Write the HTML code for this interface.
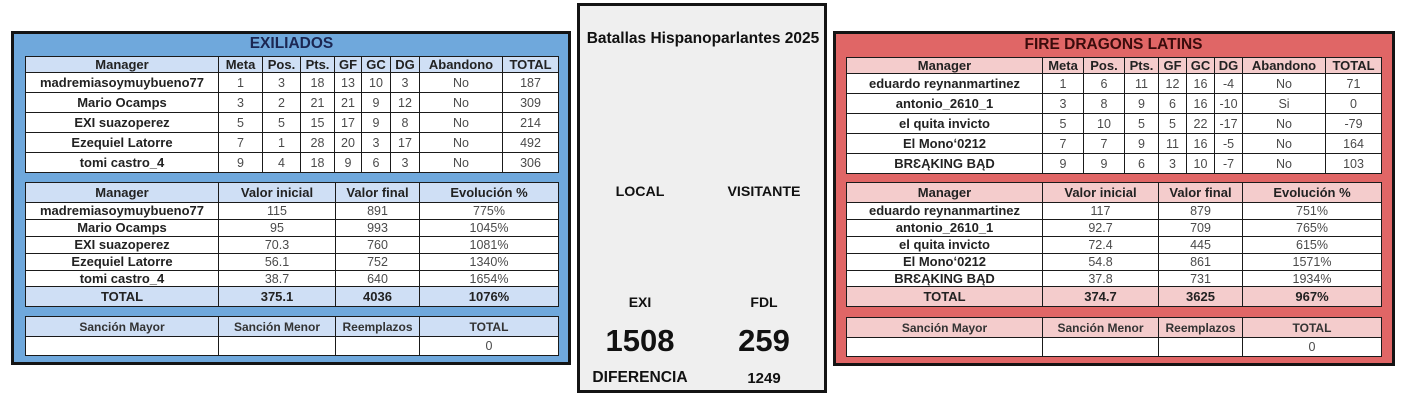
<!DOCTYPE html>
<html>
<head>
<meta charset="utf-8">
<style>
html,body{margin:0;padding:0;}
body{width:1402px;height:403px;background:#fff;position:relative;overflow:hidden;font-family:"Liberation Sans",Arial,sans-serif;}
.panel{position:absolute;box-sizing:border-box;border:3px solid #141414;}
.title{position:absolute;font-weight:bold;text-align:center;white-space:nowrap;line-height:18px;}
table{position:absolute;border-collapse:collapse;table-layout:fixed;}
td{border:1px solid #1a1a1a;padding:0;text-align:center;vertical-align:middle;font-size:12.5px;color:#4a4a4a;background:#fff;white-space:nowrap;overflow:hidden;line-height:14px;}
td.n{font-weight:bold;font-size:13px;color:#222;}
.bl td.h{background:#cfdff5;font-weight:bold;font-size:13px;color:#222;}
.rd td.h{background:#f4cccc;font-weight:bold;font-size:13px;color:#222;}
td.s{font-size:12px !important;color:#333 !important;}
.mt{position:absolute;font-weight:bold;text-align:center;white-space:nowrap;color:#111;}
</style>
</head>
<body>

<!-- LEFT PANEL -->
<div class="panel" style="left:11px;top:31px;width:560px;height:334px;background:#6fa8dc;"></div>
<div class="title" style="left:25px;top:35px;width:533px;font-size:15.5px;color:#1b2652;">EXILIADOS</div>

<table class="bl" style="left:25px;top:56px;width:533px;">
<colgroup><col style="width:193px"><col style="width:44px"><col style="width:38px"><col style="width:34px"><col style="width:27px"><col style="width:29px"><col style="width:29px"><col style="width:83px"><col style="width:56px"></colgroup>
<tr style="height:16px"><td class="h">Manager</td><td class="h">Meta</td><td class="h">Pos.</td><td class="h">Pts.</td><td class="h">GF</td><td class="h">GC</td><td class="h">DG</td><td class="h">Abandono</td><td class="h">TOTAL</td></tr>
<tr style="height:20px"><td class="n">madremiasoymuybueno77</td><td>1</td><td>3</td><td>18</td><td>13</td><td>10</td><td>3</td><td>No</td><td>187</td></tr>
<tr style="height:20px"><td class="n">Mario Ocamps</td><td>3</td><td>2</td><td>21</td><td>21</td><td>9</td><td>12</td><td>No</td><td>309</td></tr>
<tr style="height:20px"><td class="n">EXI suazoperez</td><td>5</td><td>5</td><td>15</td><td>17</td><td>9</td><td>8</td><td>No</td><td>214</td></tr>
<tr style="height:20px"><td class="n">Ezequiel Latorre</td><td>7</td><td>1</td><td>28</td><td>20</td><td>3</td><td>17</td><td>No</td><td>492</td></tr>
<tr style="height:20px"><td class="n">tomi castro_4</td><td>9</td><td>4</td><td>18</td><td>9</td><td>6</td><td>3</td><td>No</td><td>306</td></tr>
</table>

<table class="bl" style="left:25px;top:182px;width:533px;">
<colgroup><col style="width:193px"><col style="width:117px"><col style="width:84px"><col style="width:139px"></colgroup>
<tr style="height:20px"><td class="h">Manager</td><td class="h">Valor inicial</td><td class="h">Valor final</td><td class="h">Evolución %</td></tr>
<tr style="height:17px"><td class="n">madremiasoymuybueno77</td><td>115</td><td>891</td><td>775%</td></tr>
<tr style="height:17px"><td class="n">Mario Ocamps</td><td>95</td><td>993</td><td>1045%</td></tr>
<tr style="height:17px"><td class="n">EXI suazoperez</td><td>70.3</td><td>760</td><td>1081%</td></tr>
<tr style="height:17px"><td class="n">Ezequiel Latorre</td><td>56.1</td><td>752</td><td>1340%</td></tr>
<tr style="height:16px"><td class="n">tomi castro_4</td><td>38.7</td><td>640</td><td>1654%</td></tr>
<tr style="height:20px"><td class="h">TOTAL</td><td class="h">375.1</td><td class="h">4036</td><td class="h">1076%</td></tr>
</table>

<table class="bl" style="left:25px;top:316px;width:533px;">
<colgroup><col style="width:193px"><col style="width:117px"><col style="width:84px"><col style="width:139px"></colgroup>
<tr style="height:20px"><td class="h s">Sanción Mayor</td><td class="h s">Sanción Menor</td><td class="h s">Reemplazos</td><td class="h s">TOTAL</td></tr>
<tr style="height:19px"><td></td><td></td><td></td><td>0</td></tr>
</table>

<!-- MIDDLE PANEL -->
<div class="panel" style="left:577px;top:3px;width:250px;height:390px;background:#efefef;"></div>
<div class="mt" style="left:577px;top:30px;width:252px;font-size:15.5px;line-height:18px;">Batallas Hispanoparlantes 2025</div>
<div class="mt" style="left:590px;top:183px;width:100px;font-size:14.2px;line-height:18px;">LOCAL</div>
<div class="mt" style="left:714px;top:183px;width:100px;font-size:14.2px;line-height:18px;">VISITANTE</div>
<div class="mt" style="left:590px;top:293px;width:100px;font-size:14px;line-height:18px;">EXI</div>
<div class="mt" style="left:714px;top:293px;width:100px;font-size:14px;line-height:18px;">FDL</div>
<div class="mt" style="left:590px;top:324px;width:100px;font-size:31px;line-height:34px;">1508</div>
<div class="mt" style="left:714px;top:324px;width:100px;font-size:31px;line-height:34px;">259</div>
<div class="mt" style="left:580px;top:369px;width:120px;font-size:15.6px;line-height:18px;">DIFERENCIA</div>
<div class="mt" style="left:714px;top:370px;width:100px;font-size:15px;line-height:18px;">1249</div>

<!-- RIGHT PANEL -->
<div class="panel" style="left:833px;top:31px;width:562px;height:335px;background:#e06666;"></div>
<div class="title" style="left:846px;top:36px;width:535px;font-size:15.5px;color:#3a0b0b;">FIRE DRAGONS LATINS</div>

<table class="rd" style="left:846px;top:57px;width:535px;">
<colgroup><col style="width:196px"><col style="width:41px"><col style="width:41px"><col style="width:34px"><col style="width:28px"><col style="width:28px"><col style="width:28px"><col style="width:83px"><col style="width:56px"></colgroup>
<tr style="height:16px"><td class="h">Manager</td><td class="h">Meta</td><td class="h">Pos.</td><td class="h">Pts.</td><td class="h">GF</td><td class="h">GC</td><td class="h">DG</td><td class="h">Abandono</td><td class="h">TOTAL</td></tr>
<tr style="height:20px"><td class="n">eduardo reynanmartinez</td><td>1</td><td>6</td><td>11</td><td>12</td><td>16</td><td>-4</td><td>No</td><td>71</td></tr>
<tr style="height:20px"><td class="n">antonio_2610_1</td><td>3</td><td>8</td><td>9</td><td>6</td><td>16</td><td>-10</td><td>Si</td><td>0</td></tr>
<tr style="height:20px"><td class="n">el quita invicto</td><td>5</td><td>10</td><td>5</td><td>5</td><td>22</td><td>-17</td><td>No</td><td>-79</td></tr>
<tr style="height:20px"><td class="n">El Monoʻ0212</td><td>7</td><td>7</td><td>9</td><td>11</td><td>16</td><td>-5</td><td>No</td><td>164</td></tr>
<tr style="height:20px"><td class="n">BRƐĄKING BĄD</td><td>9</td><td>9</td><td>6</td><td>3</td><td>10</td><td>-7</td><td>No</td><td>103</td></tr>
</table>

<table class="rd" style="left:846px;top:182px;width:535px;">
<colgroup><col style="width:196px"><col style="width:116px"><col style="width:84px"><col style="width:139px"></colgroup>
<tr style="height:20px"><td class="h">Manager</td><td class="h">Valor inicial</td><td class="h">Valor final</td><td class="h">Evolución %</td></tr>
<tr style="height:17px"><td class="n">eduardo reynanmartinez</td><td>117</td><td>879</td><td>751%</td></tr>
<tr style="height:17px"><td class="n">antonio_2610_1</td><td>92.7</td><td>709</td><td>765%</td></tr>
<tr style="height:17px"><td class="n">el quita invicto</td><td>72.4</td><td>445</td><td>615%</td></tr>
<tr style="height:17px"><td class="n">El Monoʻ0212</td><td>54.8</td><td>861</td><td>1571%</td></tr>
<tr style="height:16px"><td class="n">BRƐĄKING BĄD</td><td>37.8</td><td>731</td><td>1934%</td></tr>
<tr style="height:20px"><td class="h">TOTAL</td><td class="h">374.7</td><td class="h">3625</td><td class="h">967%</td></tr>
</table>

<table class="rd" style="left:846px;top:317px;width:535px;">
<colgroup><col style="width:196px"><col style="width:116px"><col style="width:84px"><col style="width:139px"></colgroup>
<tr style="height:20px"><td class="h s">Sanción Mayor</td><td class="h s">Sanción Menor</td><td class="h s">Reemplazos</td><td class="h s">TOTAL</td></tr>
<tr style="height:19px"><td></td><td></td><td></td><td>0</td></tr>
</table>

</body>
</html>
